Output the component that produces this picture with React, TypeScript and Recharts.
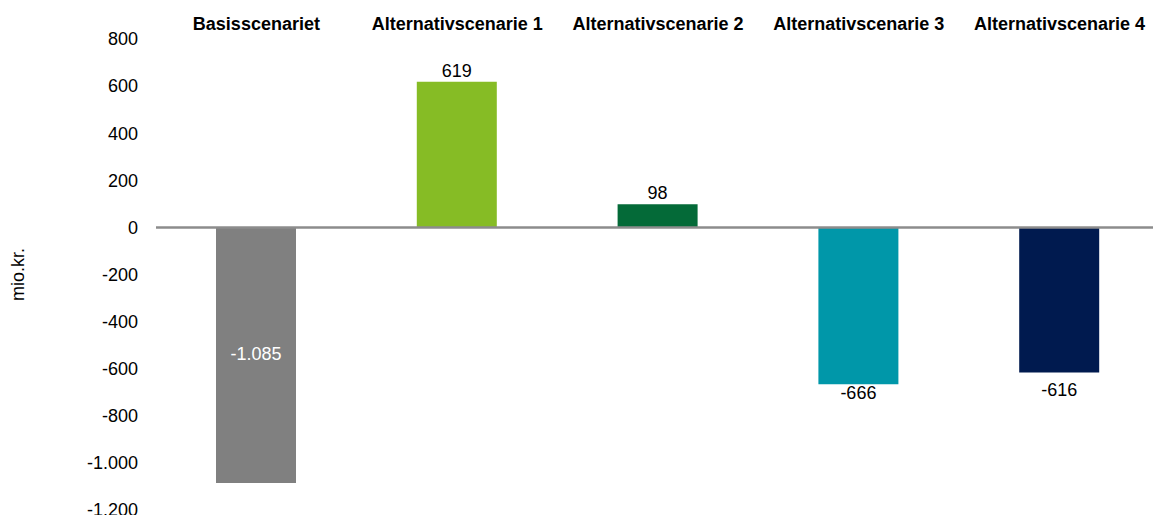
import { BarChart, Bar, Cell, XAxis, YAxis, ReferenceLine, LabelList, Label } from "recharts";

// Scenario results in mio.kr.
const scenarios = [
  "Basisscenariet",
  "Alternativscenarie 1",
  "Alternativscenarie 2",
  "Alternativscenarie 3",
  "Alternativscenarie 4",
];
const values = [-1085, 619, 98, -666, -616];
const yTicks = [800, 600, 400, 200, 0, -200, -400, -600, -800, -1000, -1200];

const COLORS = ["#808080", "#86BC25", "#046A38", "#0097A9", "#001A4F"];
// where each value label sits relative to its bar, and its gap to the bar
const LABEL_POS = ["inside", "top", "top", "bottom", "bottom"];
const LABEL_GAP = [0, 5, 5, 2, 11];

const FONT = "'Liberation Sans', Arial, sans-serif";

// Danish number format: 1.085
function fmt(v: number) {
  const s = Math.abs(v).toString().replace(/\B(?=(\d{3})+(?!\d))/g, ".");
  return (v < 0 ? "-" : "") + s;
}

const data = scenarios.map((name, i) => ({ name, value: values[i] }));

function ValueLabel(props: any) {
  const { x, y, width, height, value, index } = props;
  const top = Math.min(y, y + height);
  const h = Math.abs(height);
  const cx = x + width / 2;
  const pos = LABEL_POS[index];
  let ty = top - LABEL_GAP[index];
  let fill = "#000";
  let baseline: any = "auto";
  if (pos === "inside") {
    ty = top + h / 2;
    fill = "#fff";
    baseline = "middle";
  } else if (pos === "bottom") {
    ty = top + h + LABEL_GAP[index];
    baseline = "hanging";
  }
  return (
    <text
      x={cx}
      y={ty}
      fill={fill}
      textAnchor="middle"
      dominantBaseline={baseline}
      style={{ fontFamily: FONT, fontSize: 18 }}
    >
      {fmt(value)}
    </text>
  );
}

export default function App() {
  return (
    <div style={{ position: "absolute", left: 0, top: 0, background: "#fff" }}>
      <BarChart
        width={1160}
        height={520}
        data={data}
        margin={{ top: 0, right: 0, bottom: 10, left: 0 }}
        barSize={80}
      >
        <XAxis
          dataKey="name"
          orientation="top"
          height={39}
          axisLine={false}
          tickLine={false}
          tickSize={0}
          tickMargin={9}
          interval={0}
          tick={{ fill: "#000", fontSize: 18, fontWeight: "bold", fontFamily: FONT }}
        />
        <YAxis
          domain={[-1200, 800]}
          ticks={yTicks}
          width={156}
          axisLine={false}
          tickLine={false}
          tickSize={0}
          tickMargin={18}
          interval={0}
          tickFormatter={fmt}
          tick={{ fill: "#000", fontSize: 18, fontFamily: FONT }}
        >
          <Label
            value="mio.kr."
            angle={-90}
            position="insideLeft"
            offset={18}
            style={{ textAnchor: "middle", fill: "#000", fontSize: 18, fontFamily: FONT }}
          />
        </YAxis>
        <Bar dataKey="value" isAnimationActive={false}>
          {data.map((_, i) => (
            <Cell key={`c-${i}`} fill={COLORS[i]} />
          ))}
          <LabelList dataKey="value" content={ValueLabel} />
        </Bar>
        <ReferenceLine y={0} stroke="#8c8c8c" strokeWidth={2.5} />
      </BarChart>
    </div>
  );
}
